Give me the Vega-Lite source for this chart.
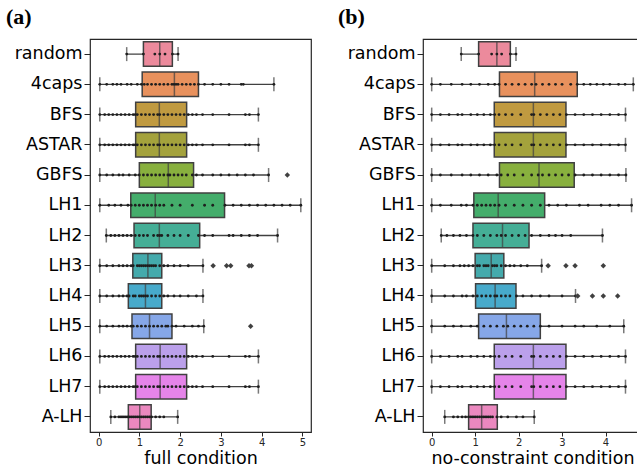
{
  "$schema": "https://vega.github.io/schema/vega-lite/v6.json",
  "background": "white",
  "padding": {"left": 5, "top": 5, "right": 0, "bottom": 0},
  "spacing": 25,
  "datasets": {
    "boxes": [
      {"panel":"a","method":"random","lo":0.69,"q1":1.10,"med":1.50,"q3":1.81,"hi":1.95},
      {"panel":"a","method":"4caps","lo":0.03,"q1":1.07,"med":1.86,"q3":2.45,"hi":4.30},
      {"panel":"a","method":"BFS","lo":0.03,"q1":0.91,"med":1.49,"q3":2.16,"hi":3.92},
      {"panel":"a","method":"ASTAR","lo":0.03,"q1":0.91,"med":1.49,"q3":2.16,"hi":3.92},
      {"panel":"a","method":"GBFS","lo":0.03,"q1":1.00,"med":1.71,"q3":2.33,"hi":4.17},
      {"panel":"a","method":"LH1","lo":0.03,"q1":0.79,"med":1.39,"q3":3.09,"hi":4.96},
      {"panel":"a","method":"LH2","lo":0.19,"q1":0.87,"med":1.49,"q3":2.48,"hi":4.39},
      {"panel":"a","method":"LH3","lo":0.03,"q1":0.84,"med":1.21,"q3":1.55,"hi":2.56},
      {"panel":"a","method":"LH4","lo":0.03,"q1":0.73,"med":1.15,"q3":1.55,"hi":2.56},
      {"panel":"a","method":"LH5","lo":0.03,"q1":0.82,"med":1.25,"q3":1.80,"hi":2.58},
      {"panel":"a","method":"LH6","lo":0.03,"q1":0.91,"med":1.51,"q3":2.16,"hi":3.92},
      {"panel":"a","method":"LH7","lo":0.03,"q1":0.91,"med":1.51,"q3":2.16,"hi":3.92},
      {"panel":"a","method":"A-LH","lo":0.30,"q1":0.73,"med":1.01,"q3":1.29,"hi":1.94},
      {"panel":"b","method":"random","lo":0.68,"q1":1.08,"med":1.50,"q3":1.81,"hi":1.94},
      {"panel":"b","method":"4caps","lo":0.0,"q1":1.56,"med":2.37,"q3":3.35,"hi":4.64},
      {"panel":"b","method":"BFS","lo":0.0,"q1":1.44,"med":2.34,"q3":3.09,"hi":4.46},
      {"panel":"b","method":"ASTAR","lo":0.0,"q1":1.44,"med":2.34,"q3":3.09,"hi":4.46},
      {"panel":"b","method":"GBFS","lo":0.0,"q1":1.56,"med":2.47,"q3":3.28,"hi":4.47},
      {"panel":"b","method":"LH1","lo":0.0,"q1":0.97,"med":1.53,"q3":2.60,"hi":4.60},
      {"panel":"b","method":"LH2","lo":0.22,"q1":0.95,"med":1.63,"q3":2.24,"hi":3.93},
      {"panel":"b","method":"LH3","lo":0.0,"q1":1.00,"med":1.37,"q3":1.66,"hi":2.53},
      {"panel":"b","method":"LH4","lo":0.0,"q1":1.01,"med":1.46,"q3":1.94,"hi":3.31},
      {"panel":"b","method":"LH5","lo":0.0,"q1":1.08,"med":1.72,"q3":2.50,"hi":4.42},
      {"panel":"b","method":"LH6","lo":0.0,"q1":1.44,"med":2.34,"q3":3.09,"hi":4.46},
      {"panel":"b","method":"LH7","lo":0.0,"q1":1.44,"med":2.34,"q3":3.09,"hi":4.46},
      {"panel":"b","method":"A-LH","lo":0.30,"q1":0.85,"med":1.15,"q3":1.51,"hi":2.36}
    ],
    "fliers": [
      {"panel":"a","method":"GBFS","v":[4.63]},
      {"panel":"a","method":"LH3","v":[2.81,3.14,3.24,3.69,3.75]},
      {"panel":"a","method":"LH5","v":[3.73]},
      {"panel":"b","method":"LH3","v":[2.68,3.09,3.30,3.95]},
      {"panel":"b","method":"LH4","v":[3.36,3.70,3.95,4.28]}
    ],
    "swarm": [
      {"panel":"a","method":"random","v":[0.69,1.10,1.38,1.50,1.63,1.81,1.95]},
      {"panel":"a","method":"4caps","v":[0.03,0.2,0.35,0.45,0.55,0.7,0.8,0.95,1.05,1.12,1.2,1.3,1.4,1.5,1.6,1.7,1.8,1.85,1.9,1.95,2.05,2.15,2.25,2.35,2.45,2.6,2.8,3.0,3.2,3.5,3.55,4.3]},
      {"panel":"a","method":"BFS","v":[0.03,0.15,0.25,0.35,0.45,0.55,0.65,0.75,0.85,0.9,0.95,1.05,1.15,1.25,1.35,1.45,1.5,1.6,1.7,1.8,1.9,2.0,2.1,2.2,2.3,2.4,2.55,2.8,3.2,3.6,3.7,3.92]},
      {"panel":"a","method":"ASTAR","v":[0.03,0.15,0.25,0.35,0.45,0.55,0.65,0.75,0.85,0.9,0.95,1.05,1.15,1.25,1.35,1.45,1.5,1.6,1.7,1.8,1.9,2.0,2.1,2.2,2.3,2.4,2.55,2.8,3.2,3.6,3.7,3.92]},
      {"panel":"a","method":"GBFS","v":[0.03,0.2,0.35,0.5,0.6,0.75,0.9,1.0,1.1,1.2,1.3,1.4,1.5,1.6,1.7,1.75,1.85,1.95,2.05,2.15,2.3,2.4,2.55,2.8,3.0,3.2,3.4,3.6,3.8,4.17]},
      {"panel":"a","method":"LH1","v":[0.03,0.25,0.4,0.55,0.72,0.8,0.9,1.0,1.1,1.2,1.3,1.4,1.5,1.6,1.8,2.0,2.3,2.6,2.8,3.1,3.3,3.5,3.7,3.9,4.1,4.3,4.5,4.7,4.96]},
      {"panel":"a","method":"LH2","v":[0.19,0.3,0.4,0.5,0.6,0.7,0.8,0.9,1.0,1.1,1.2,1.35,1.45,1.5,1.55,1.7,1.85,2.0,2.2,2.45,2.6,2.8,3.2,3.3,3.5,3.7,3.9,4.39]},
      {"panel":"a","method":"LH3","v":[0.03,0.2,0.35,0.5,0.6,0.7,0.8,0.85,0.95,1.0,1.05,1.1,1.15,1.2,1.25,1.3,1.35,1.4,1.5,1.6,1.7,1.85,2.0,2.2,2.56]},
      {"panel":"a","method":"LH4","v":[0.03,0.2,0.35,0.5,0.6,0.7,0.75,0.85,0.9,1.0,1.05,1.1,1.15,1.2,1.3,1.4,1.5,1.6,1.7,1.85,2.0,2.2,2.4,2.56]},
      {"panel":"a","method":"LH5","v":[0.03,0.2,0.35,0.5,0.6,0.7,0.8,0.85,0.95,1.05,1.15,1.25,1.35,1.45,1.55,1.65,1.7,1.8,1.9,2.1,2.3,2.45,2.58]},
      {"panel":"a","method":"LH6","v":[0.03,0.15,0.25,0.35,0.45,0.55,0.65,0.75,0.85,0.9,0.95,1.05,1.15,1.25,1.35,1.45,1.5,1.6,1.7,1.8,1.9,2.0,2.1,2.2,2.3,2.4,2.55,2.8,3.2,3.6,3.7,3.92]},
      {"panel":"a","method":"LH7","v":[0.03,0.15,0.25,0.35,0.45,0.55,0.65,0.75,0.85,0.9,0.95,1.05,1.15,1.25,1.35,1.45,1.5,1.6,1.7,1.8,1.9,2.0,2.1,2.2,2.3,2.4,2.55,2.8,3.2,3.6,3.7,3.92]},
      {"panel":"a","method":"A-LH","v":[0.3,0.4,0.5,0.55,0.6,0.65,0.7,0.75,0.8,0.85,0.9,0.95,1.0,1.05,1.1,1.15,1.2,1.25,1.3,1.4,1.5,1.6,1.94]},
      {"panel":"b","method":"random","v":[0.68,1.08,1.38,1.5,1.61,1.81,1.94]},
      {"panel":"b","method":"4caps","v":[0,0.2,0.45,0.7,0.9,1.1,1.3,1.45,1.55,1.7,1.85,2.0,2.15,2.3,2.4,2.55,2.7,2.85,3.0,3.2,3.35,3.5,3.65,3.8,3.95,4.1,4.3,4.45,4.64]},
      {"panel":"b","method":"BFS","v":[0,0.2,0.4,0.6,0.7,0.9,1.05,1.2,1.35,1.45,1.55,1.7,1.85,2.05,2.3,2.35,2.5,2.65,2.8,2.95,3.1,3.3,3.5,3.7,3.9,4.1,4.3,4.46]},
      {"panel":"b","method":"ASTAR","v":[0,0.2,0.4,0.6,0.7,0.9,1.05,1.2,1.35,1.45,1.55,1.7,1.85,2.05,2.3,2.35,2.5,2.65,2.8,2.95,3.1,3.3,3.5,3.7,3.9,4.1,4.3,4.46]},
      {"panel":"b","method":"GBFS","v":[0,0.2,0.45,0.7,0.9,1.1,1.3,1.5,1.6,1.75,1.9,2.1,2.3,2.45,2.55,2.7,2.85,3.0,3.15,3.3,3.5,3.7,3.9,4.1,4.3,4.47]},
      {"panel":"b","method":"LH1","v":[0,0.2,0.45,0.68,0.8,0.95,1.05,1.15,1.25,1.35,1.45,1.55,1.7,1.9,2.1,2.3,2.5,2.7,2.9,3.1,3.4,3.6,3.9,4.1,4.3,4.6]},
      {"panel":"b","method":"LH2","v":[0.22,0.35,0.5,0.65,0.8,0.95,1.05,1.2,1.35,1.5,1.6,1.7,1.85,2.0,2.15,2.3,2.5,2.7,2.85,3.0,3.2,3.93]},
      {"panel":"b","method":"LH3","v":[0,0.3,0.5,0.65,0.75,0.85,0.95,1.05,1.1,1.2,1.25,1.3,1.4,1.45,1.5,1.6,1.7,1.8,1.9,2.05,2.2,2.53]},
      {"panel":"b","method":"LH4","v":[0,0.3,0.5,0.7,0.8,0.95,1.05,1.15,1.25,1.35,1.45,1.5,1.6,1.7,1.8,1.95,2.1,2.3,2.5,2.7,3.0,3.31]},
      {"panel":"b","method":"LH5","v":[0,0.3,0.5,0.68,0.9,1.05,1.2,1.35,1.5,1.65,1.75,1.9,2.05,2.2,2.35,2.5,2.7,3.0,3.3,3.5,3.8,4.1,4.42]},
      {"panel":"b","method":"LH6","v":[0,0.2,0.4,0.6,0.7,0.9,1.05,1.2,1.35,1.45,1.55,1.7,1.85,2.05,2.3,2.35,2.5,2.65,2.8,2.95,3.1,3.3,3.5,3.7,3.9,4.1,4.3,4.46]},
      {"panel":"b","method":"LH7","v":[0,0.2,0.4,0.6,0.7,0.9,1.05,1.2,1.35,1.45,1.55,1.7,1.85,2.05,2.3,2.35,2.5,2.65,2.8,2.95,3.1,3.3,3.5,3.7,3.9,4.1,4.3,4.46]},
      {"panel":"b","method":"A-LH","v":[0.3,0.5,0.6,0.7,0.78,0.85,0.9,0.95,1.0,1.05,1.1,1.15,1.2,1.25,1.3,1.35,1.4,1.5,1.6,1.75,1.95,2.1,2.36]}
    ]
  },
  "hconcat": [
    {
      "width": 221,
      "height": 393,
      "title": {"text": "(a)", "anchor": "start", "frame": "group", "dx": -84, "offset": 10},
      "encoding": {
        "y": {"field": "method", "type": "nominal", "title": null,
              "sort": ["random","4caps","BFS","ASTAR","GBFS","LH1","LH2","LH3","LH4","LH5","LH6","LH7","A-LH"],
              "scale": {"domain": ["random","4caps","BFS","ASTAR","GBFS","LH1","LH2","LH3","LH4","LH5","LH6","LH7","A-LH"], "paddingInner": 0, "paddingOuter": 0}}
      },
      "layer": [
        {"data": {"name": "boxes"}, "transform": [{"filter": "datum.panel === 'a'"}],
         "mark": {"type": "rule", "color": "#404040", "strokeWidth": 1.4},
         "encoding": {"x": {"field": "lo", "type": "quantitative", "title": "full condition", "scale": {"domain": [-0.21, 5.21], "nice": false, "zero": false}, "axis": {"values": [0,1,2,3,4,5]}},
                      "x2": {"field": "hi"}}},
        {"data": {"name": "boxes"}, "transform": [{"filter": "datum.panel === 'a'"}],
         "mark": {"type": "bar", "size": 24.5, "stroke": "#404040", "strokeWidth": 1.5, "fillOpacity": 1},
         "encoding": {"x": {"field": "q1", "type": "quantitative", "scale": {"domain": [-0.21, 5.21], "nice": false, "zero": false}},
                      "x2": {"field": "q3"},
                      "color": {"field": "method", "type": "nominal", "legend": null,
                                "scale": {"domain": ["random","4caps","BFS","ASTAR","GBFS","LH1","LH2","LH3","LH4","LH5","LH6","LH7","A-LH"],
                                          "range": ["#ec8a9c","#e8915d","#c09a40","#a4a23c","#88b03e","#44ad6b","#45ae96","#44aaac","#47aacb","#86a7e8","#bba0eb","#e584e9","#eb88bf"]}}}},
        {"data": {"name": "boxes"}, "transform": [{"filter": "datum.panel === 'a'"}],
         "mark": {"type": "tick", "color": "#404040", "size": 24.5, "thickness": 1.5},
         "encoding": {"x": {"field": "med", "type": "quantitative", "scale": {"domain": [-0.21, 5.21], "nice": false, "zero": false}}}},
        {"data": {"name": "boxes"}, "transform": [{"filter": "datum.panel === 'a'"}, {"fold": ["lo", "hi"], "as": ["end", "cap"]}],
         "mark": {"type": "tick", "color": "#404040", "size": 14, "thickness": 1.5},
         "encoding": {"x": {"field": "cap", "type": "quantitative", "scale": {"domain": [-0.21, 5.21], "nice": false, "zero": false}}}},
        {"data": {"name": "swarm"}, "transform": [{"filter": "datum.panel === 'a'"}, {"flatten": ["v"]}],
         "mark": {"type": "circle", "color": "#1e1e1e", "size": 8, "opacity": 1},
         "encoding": {"x": {"field": "v", "type": "quantitative", "scale": {"domain": [-0.21, 5.21], "nice": false, "zero": false}}}},
        {"data": {"name": "fliers"}, "transform": [{"filter": "datum.panel === 'a'"}, {"flatten": ["v"]}],
         "mark": {"type": "point", "shape": "diamond", "filled": true, "color": "#404040", "size": 30, "opacity": 1},
         "encoding": {"x": {"field": "v", "type": "quantitative", "scale": {"domain": [-0.21, 5.21], "nice": false, "zero": false}}}}
      ]
    },
    {
      "width": 219,
      "height": 393,
      "title": {"text": "(b)", "anchor": "start", "frame": "group", "dx": -85, "offset": 10},
      "encoding": {
        "y": {"field": "method", "type": "nominal", "title": null,
              "sort": ["random","4caps","BFS","ASTAR","GBFS","LH1","LH2","LH3","LH4","LH5","LH6","LH7","A-LH"],
              "scale": {"domain": ["random","4caps","BFS","ASTAR","GBFS","LH1","LH2","LH3","LH4","LH5","LH6","LH7","A-LH"], "paddingInner": 0, "paddingOuter": 0}}
      },
      "layer": [
        {"data": {"name": "boxes"}, "transform": [{"filter": "datum.panel === 'b'"}],
         "mark": {"type": "rule", "color": "#404040", "strokeWidth": 1.4},
         "encoding": {"x": {"field": "lo", "type": "quantitative", "title": "no-constraint condition", "scale": {"domain": [-0.2, 4.84], "nice": false, "zero": false}, "axis": {"values": [0,1,2,3,4]}},
                      "x2": {"field": "hi"}}},
        {"data": {"name": "boxes"}, "transform": [{"filter": "datum.panel === 'b'"}],
         "mark": {"type": "bar", "size": 24.5, "stroke": "#404040", "strokeWidth": 1.5, "fillOpacity": 1},
         "encoding": {"x": {"field": "q1", "type": "quantitative", "scale": {"domain": [-0.2, 4.84], "nice": false, "zero": false}},
                      "x2": {"field": "q3"},
                      "color": {"field": "method", "type": "nominal", "legend": null,
                                "scale": {"domain": ["random","4caps","BFS","ASTAR","GBFS","LH1","LH2","LH3","LH4","LH5","LH6","LH7","A-LH"],
                                          "range": ["#ec8a9c","#e8915d","#c09a40","#a4a23c","#88b03e","#44ad6b","#45ae96","#44aaac","#47aacb","#86a7e8","#bba0eb","#e584e9","#eb88bf"]}}}},
        {"data": {"name": "boxes"}, "transform": [{"filter": "datum.panel === 'b'"}],
         "mark": {"type": "tick", "color": "#404040", "size": 24.5, "thickness": 1.5},
         "encoding": {"x": {"field": "med", "type": "quantitative", "scale": {"domain": [-0.2, 4.84], "nice": false, "zero": false}}}},
        {"data": {"name": "boxes"}, "transform": [{"filter": "datum.panel === 'b'"}, {"fold": ["lo", "hi"], "as": ["end", "cap"]}],
         "mark": {"type": "tick", "color": "#404040", "size": 14, "thickness": 1.5},
         "encoding": {"x": {"field": "cap", "type": "quantitative", "scale": {"domain": [-0.2, 4.84], "nice": false, "zero": false}}}},
        {"data": {"name": "swarm"}, "transform": [{"filter": "datum.panel === 'b'"}, {"flatten": ["v"]}],
         "mark": {"type": "circle", "color": "#1e1e1e", "size": 8, "opacity": 1},
         "encoding": {"x": {"field": "v", "type": "quantitative", "scale": {"domain": [-0.2, 4.84], "nice": false, "zero": false}}}},
        {"data": {"name": "fliers"}, "transform": [{"filter": "datum.panel === 'b'"}, {"flatten": ["v"]}],
         "mark": {"type": "point", "shape": "diamond", "filled": true, "color": "#404040", "size": 30, "opacity": 1},
         "encoding": {"x": {"field": "v", "type": "quantitative", "scale": {"domain": [-0.2, 4.84], "nice": false, "zero": false}}}}
      ]
    }
  ],
  "config": {
    "font": "DejaVu Sans",
    "view": {"stroke": "#262626", "strokeWidth": 1.2},
    "title": {"font": "Liberation Serif", "fontSize": 22, "fontWeight": "bold", "color": "#000000"},
    "axis": {"grid": false, "domain": false, "tickColor": "#262626", "labelColor": "#262626", "titleColor": "#000000", "titleFontWeight": "normal"},
    "axisY": {"labelFontSize": 17.5, "tickSize": 6, "labelPadding": 2, "labelColor": "#000000"},
    "axisX": {"labelFontSize": 10, "tickSize": 4, "labelPadding": 1, "titleFontSize": 17.5, "titlePadding": 2, "labelFlush": false}
  }
}
